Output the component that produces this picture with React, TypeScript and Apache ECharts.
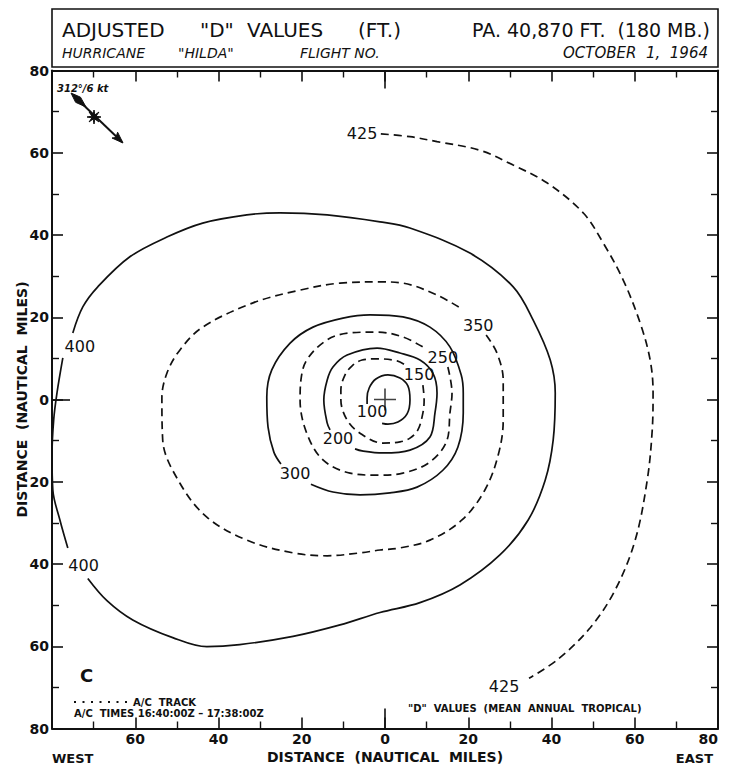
import React, { useEffect, useRef } from "react";
import * as echarts from "echarts";

// Contour lines of adjusted "D" values (ft), coordinates in nautical miles (x: west -, east +; y: south -, north +)
const contour100: number[][] = [[-0.7,-5.8],[0.7,-6.0],[3.1,-5.5],[5.3,-3.5],[6.0,-0.1],[5.5,3.3],[3.6,5.2],[0.7,6.0],[-2.2,5.0],[-3.8,2.8],[-4.3,0.4],[-4.3,-1.1]];
const contour150: number[][] = [[9.1,3.5],[9.4,-0.1],[9.1,-3.3],[7.9,-7.4],[6.0,-9.4],[3.6,-10.3],[-0.5,-10.6],[-6.0,-8.2],[-9.1,-5.0],[-10.6,-0.1],[-10.6,2.3],[-9.6,6.0],[-7.9,8.2],[-5.5,9.6],[-1.9,9.9],[2.9,9.4],[4.8,8.4]];
const contour200: number[][] = [[-7.2,-12.0],[-5.5,-12.5],[-0.5,-13.0],[6.0,-12.3],[10.8,-9.1],[12.0,-3.3],[12.5,1.6],[11.5,6.4],[8.4,9.6],[3.6,11.3],[-1.9,12.5],[-9.1,10.8],[-12.5,7.9],[-13.9,4.7],[-14.7,-0.1],[-13.9,-5.7],[-13.2,-7.4]];
const contour250: number[][] = [[15.1,7.9],[16.1,1.6],[15.6,-3.3],[14.9,-9.9],[10.8,-15.2],[4.3,-17.9],[-1.9,-18.4],[-8.4,-17.9],[-14.9,-14.7],[-18.8,-8.2],[-20.4,-0.1],[-20.2,4.7],[-18.8,9.6],[-13.9,14.5],[-8.4,16.2],[-1.9,16.4],[4.3,15.2],[9.6,12.5]];
const contour300: number[][] = [[-17.8,-20.6],[-12.5,-22.5],[-6.0,-23.2],[1.2,-22.7],[7.7,-21.3],[13.9,-17.2],[17.5,-11.6],[18.8,-3.3],[18.8,1.6],[18.3,6.0],[15.6,12.8],[10.8,17.6],[4.3,20.1],[-3.6,20.6],[-10.1,19.8],[-17.3,17.6],[-22.8,13.7],[-27.2,7.2],[-28.4,0.6],[-28.1,-6.7],[-26.7,-12.8],[-25.0,-15.7]];
const contour350: number[][] = [[24.3,15.7],[26.9,11.3],[28.4,4.7],[28.4,-5.0],[27.2,-13.5],[24.0,-22.0],[18.5,-29.3],[10.8,-34.2],[3.6,-36.1],[-1.2,-36.6],[-6.0,-37.3],[-13.9,-38.0],[-22.1,-37.3],[-33.2,-34.2],[-42.8,-28.6],[-49.3,-20.3],[-53.4,-9.9],[-53.6,0.4],[-52.4,6.4],[-49.3,12.0],[-43.8,17.6],[-31.7,23.5],[-20.4,26.6],[-10.8,28.3],[-1.2,28.6],[4.3,28.3],[12.5,25.4],[18.0,22.3]];
const contour400a: number[][] = [[-75.0,16.2],[-72.6,22.5],[-69.0,27.4],[-61.3,34.7],[-52.4,39.5],[-43.8,42.9],[-33.2,44.9],[-25.2,45.4],[-13.9,44.9],[-1.2,43.2],[6.0,41.7],[20.4,35.6],[30.8,27.4],[35.6,19.3],[39.7,9.6],[40.9,1.6],[40.4,-9.9],[38.5,-19.6],[34.4,-29.3],[27.6,-37.8],[18.0,-45.1],[8.4,-49.4],[-1.2,-51.8],[-10.8,-54.8],[-22.1,-57.6],[-34.9,-59.6],[-42.8,-60.1],[-51.0,-57.9],[-60.6,-53.6],[-66.8,-48.9],[-71.4,-43.5]];
const contour400b: number[][] = [[-77.4,10.1],[-78.8,1.6],[-79.6,-5.0],[-80.0,-13.5],[-79.8,-22.0],[-78.1,-29.3],[-76.2,-36.1]];
const contour425: number[][] = [[-1.0,64.6],[6.0,63.9],[12.5,62.7],[22.8,60.6],[30.8,57.0],[38.9,52.7],[47.6,45.4],[52.4,38.1],[57.2,29.1],[61.3,18.6],[63.7,9.6],[64.4,1.6],[64.2,-7.4],[63.0,-19.6],[60.1,-34.2],[55.3,-46.3],[49.3,-55.5],[41.5,-63.2],[34.6,-67.8]];

const contourLabels: [number, number, string][] = [
  [-3.1, -3.0, "100"], [8.2, 6.0, "150"], [-11.3, -9.6, "200"], [13.9, 10.1, "250"],
  [-21.6, -17.9, "300"], [22.4, 17.9, "350"], [-73.3, 13.0, "400"], [-72.4, -40.3, "400"],
  [-5.5, 64.6, "425"], [28.6, -69.8, "425"],
];
const stormCenter: number[][] = [[0, 0]];

const contours = [
  { points: contour100, dashed: false },
  { points: contour150, dashed: true },
  { points: contour200, dashed: false },
  { points: contour250, dashed: true },
  { points: contour300, dashed: false },
  { points: contour350, dashed: true },
  { points: contour400a, dashed: false },
  { points: contour400b, dashed: false },
  { points: contour425, dashed: true },
];

const FONT = "'DejaVu Sans', 'Liberation Sans', sans-serif";
const INK = "#111111";

function txt(text: string, x: number, y: number, size: number, opts: any = {}) {
  return {
    type: "text", x, y, silent: true,
    style: {
      text, fill: INK, fontFamily: FONT, fontSize: size,
      fontWeight: opts.weight || "normal", fontStyle: opts.style || "normal",
      align: opts.align || "left", verticalAlign: "middle",
    },
  };
}

export default function App() {
  const ref = useRef<HTMLDivElement>(null);
  useEffect(() => {
    if (!ref.current) return;
    const chart = echarts.init(ref.current, null, { renderer: "svg" });

    const lineSeries = contours.map((c) => ({
      type: "line", data: c.points, showSymbol: false, smooth: 0.35, silent: true,
      xAxisIndex: 0, yAxisIndex: 0,
      lineStyle: { color: INK, width: 1.7, type: c.dashed ? [8, 5] : "solid" },
      z: 3,
    }));

    const tickStyle = { color: INK, width: 1.6 };
    const base = { type: "value", min: -80, max: 80, interval: 20, splitLine: { show: false } };
    const framed = (pos: string, labels: any) => ({
      ...base, position: pos,
      axisLine: { onZero: false, lineStyle: { color: INK, width: 2 } },
      axisTick: { inside: true, length: 11, lineStyle: tickStyle },
      minorTick: { show: true, splitNumber: 2, length: 7, lineStyle: { color: INK, width: 1.4 } },
      axisLabel: labels,
    });
    const zeroTick = (pos: string, len: number) => ({
      ...base, position: pos,
      axisLine: { show: false, onZero: false },
      axisTick: { inside: true, length: len, customValues: [0], lineStyle: tickStyle },
      axisLabel: { show: false },
    });
    const labelStyle = { color: INK, fontFamily: FONT, fontWeight: "bold", fontSize: 14, margin: 3 };
    const nameStyle = { color: INK, fontFamily: FONT, fontWeight: "bold", fontSize: 14 };

    // wind arrow star
    const star: number[][] = [];
    for (let i = 0; i < 16; i++) {
      const r = i % 2 === 0 ? 7 : 2.2;
      const a = (i * Math.PI) / 8;
      star.push([94 + r * Math.cos(a), 117 + r * Math.sin(a)]);
    }

    const option: any = {
      animation: false,
      backgroundColor: "#fff",
      grid: { left: 52, top: 70.5, width: 666, height: 658, containLabel: false, outerBoundsMode: "none" },
      xAxis: [
        {
          ...framed("bottom", { ...labelStyle, alignMaxLabel: "right", formatter: (v: number) => (v === -80 ? "" : String(Math.abs(v))) }),
          name: "DISTANCE  (NAUTICAL  MILES)", nameLocation: "middle", nameGap: 21, nameMoveOverlap: false, nameTextStyle: nameStyle,
        },
        framed("top", { show: false }),
        zeroTick("bottom", 20),
        zeroTick("top", 18),
      ],
      yAxis: [
        {
          ...framed("left", { ...labelStyle, margin: 3, formatter: (v: number) => String(Math.abs(v)) }),
          name: "DISTANCE  (NAUTICAL  MILES)", nameLocation: "middle", nameGap: 23, nameMoveOverlap: false, nameTextStyle: nameStyle,
        },
        framed("right", { show: false }),
        zeroTick("left", 18),
      ],
      series: [
        ...lineSeries,
        {
          type: "scatter", silent: true, xAxisIndex: 0, yAxisIndex: 0,
          data: contourLabels.map((l) => ({ name: l[2], value: [l[0], l[1]] })),
          symbolSize: 1, itemStyle: { color: "rgba(0,0,0,0)" },
          label: {
            show: true, position: "inside", formatter: "{b}", color: INK, opacity: 1,
            textBorderWidth: 0, fontFamily: FONT, fontSize: 16,
          },
          z: 4,
        },
        {
          type: "scatter", silent: true, xAxisIndex: 0, yAxisIndex: 0,
          data: stormCenter,
          symbol: "path://M0,10 L20,10 M10,0 L10,20", symbolSize: 22,
          itemStyle: { color: "rgba(0,0,0,0)", borderColor: INK, borderWidth: 1.6 },
          z: 5,
        },
      ],
      graphic: {
        elements: [
          { type: "rect", silent: true, shape: { x: 52, y: 9, width: 666, height: 58 }, style: { fill: "none", stroke: INK, lineWidth: 1.6 } },
          txt("ADJUSTED", 62, 30, 20),
          txt('"D"', 200, 30, 20),
          txt("VALUES", 247, 30, 20),
          txt("(FT.)", 358, 30, 20),
          txt("PA. 40,870 FT.", 472, 30, 19),
          txt("(180 MB.)", 710, 30, 19, { align: "right" }),
          txt("HURRICANE", 62, 53, 14, { style: "italic" }),
          txt('"HILDA"', 178, 53, 14, { style: "italic" }),
          txt("FLIGHT NO.", 300, 53, 14, { style: "italic" }),
          txt("OCTOBER  1,  1964", 708, 53, 15, { style: "italic", align: "right" }),
          txt("WEST", 52, 758, 13, { weight: "bold" }),
          txt("EAST", 713, 758, 13, { weight: "bold", align: "right" }),
          txt("C", 80, 675, 18, { weight: "bold" }),
          { type: "line", silent: true, shape: { x1: 74, y1: 702, x2: 128, y2: 702 }, style: { stroke: INK, lineWidth: 2, lineDash: [2, 6.5] } },
          txt("A/C  TRACK", 133, 702, 10, { weight: "bold" }),
          txt("A/C  TIMES 16:40:00Z – 17:38:00Z", 74, 713, 10, { weight: "bold" }),
          txt('"D"  VALUES  (MEAN  ANNUAL  TROPICAL)', 408, 708, 10, { weight: "bold" }),
          txt("312°/6 kt", 57, 88, 10, { weight: "bold", style: "italic" }),
          { type: "line", silent: true, shape: { x1: 73, y1: 95, x2: 122, y2: 142 }, style: { stroke: INK, lineWidth: 2 } },
          { type: "polygon", silent: true, shape: { points: [[71, 93], [80.5, 97.2], [86, 107], [75.6, 102.3]] }, style: { fill: INK, stroke: INK, lineWidth: 1 } },
          { type: "polygon", silent: true, shape: { points: [[123, 143], [112, 138], [116, 137.5], [117.6, 132.2]] }, style: { fill: INK, stroke: INK, lineWidth: 1 } },
          { type: "polygon", silent: true, shape: { points: star }, style: { fill: INK, stroke: INK, lineWidth: 1 } },
        ],
      },
    };
    chart.setOption(option);
    return () => chart.dispose();
  }, []);
  return <div ref={ref} style={{ position: "fixed", left: 0, top: 0, width: 738, height: 766, background: "#fff" }} />;
}
